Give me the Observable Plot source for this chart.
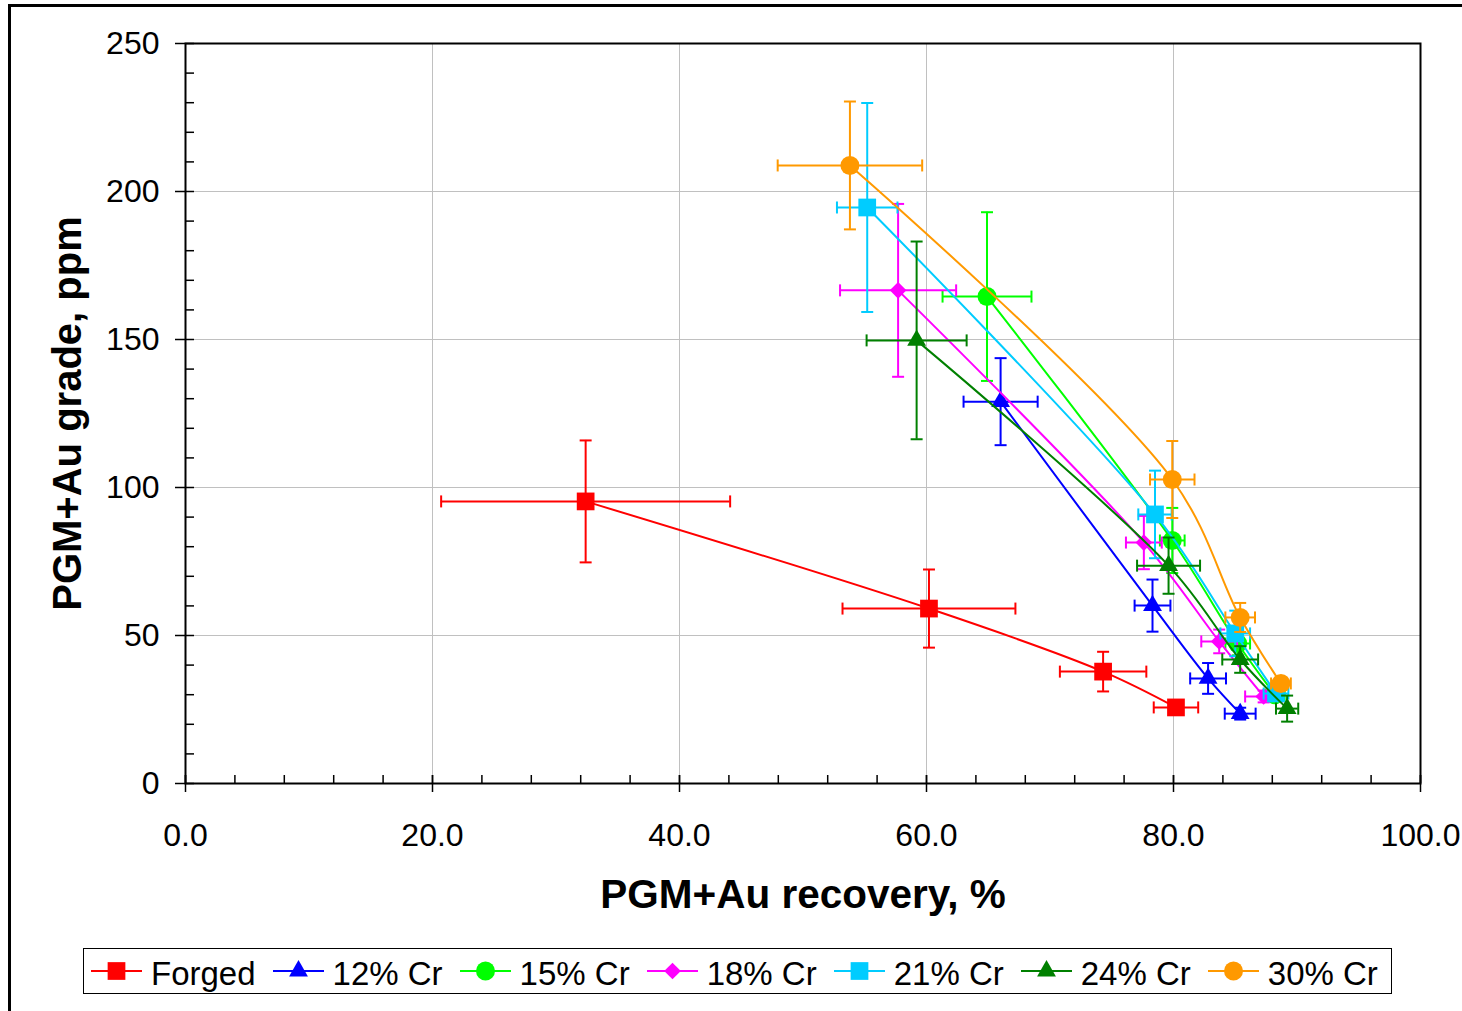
<!DOCTYPE html>
<html><head><meta charset="utf-8">
<script src="https://cdn.jsdelivr.net/npm/d3@7"></script>
<script src="https://cdn.jsdelivr.net/npm/@observablehq/plot@0.6"></script>
<style>
html,body{margin:0;padding:0;background:#fff;}
body{width:1462px;height:1011px;overflow:hidden;position:relative;font-family:"Liberation Sans",Arial,sans-serif;}
#frame{position:absolute;left:8px;top:4px;width:2000px;height:2000px;border-top:3px solid #000;border-left:3px solid #000;}
#chart{position:absolute;left:0;top:0;}
#legend{position:absolute;left:83px;top:948px;width:1309px;height:46px;border:1.5px solid #000;display:flex;align-items:center;box-sizing:border-box;padding-left:7px;background:#fff;white-space:nowrap;overflow:visible;}
.item{display:flex;align-items:center;margin-right:17px;flex:0 0 auto;white-space:nowrap;}
.item svg{margin-right:9px;display:block;flex:0 0 auto;}
.item span{font-size:33px;line-height:1;color:#000;position:relative;top:2px;white-space:nowrap;}
</style></head><body>
<div id="frame"></div>
<div id="chart"></div>
<div id="legend"></div>
<script>
// ---- data ----
const seriesNames = ["Forged", "12% Cr", "15% Cr", "18% Cr", "21% Cr", "24% Cr", "30% Cr"];

const forgedRecovery    = [32.4, 60.2, 74.3, 80.2];
const forgedGrade       = [95.3, 59.1, 37.8, 25.7];
const forgedRecoveryErr = [11.7, 7.0, 3.5, 1.8];
const forgedGradeErr    = [20.6, 13.2, 6.7, 1.5];

const cr12Recovery    = [66.0, 78.3, 82.8, 85.4];
const cr12Grade       = [129.0, 60.1, 35.5, 23.6];
const cr12RecoveryErr = [3.0, 1.45, 1.45, 1.25];
const cr12GradeErr    = [14.7, 8.8, 5.2, 2.0];

const cr15Recovery    = [64.9, 79.9, 85.2, 88.2];
const cr15Grade       = [164.5, 82.1, 47.3, 30.0];
const cr15RecoveryErr = [3.6, 1.0, 1.0, 0.8];
const cr15GradeErr    = [28.5, 11.0, 4.0, 2.0];

const cr18Recovery    = [57.7, 77.6, 83.7, 87.3];
const cr18Grade       = [166.6, 81.4, 48.0, 29.4];
const cr18RecoveryErr = [4.7, 1.45, 1.45, 1.5];
const cr18GradeErr    = [29.2, 9.0, 4.0, 2.0];

const cr21Recovery    = [55.2, 78.5, 85.0, 88.3];
const cr21Grade       = [194.6, 90.9, 50.7, 30.4];
const cr21RecoveryErr = [2.45, 1.35, 1.2, 1.0];
const cr21GradeErr    = [35.3, 14.8, 7.7, 2.0];

const cr24Recovery    = [59.2, 79.6, 85.4, 89.2];
const cr24Grade       = [149.7, 73.6, 41.9, 25.3];
const cr24RecoveryErr = [4.05, 2.55, 1.45, 0.9];
const cr24GradeErr    = [33.4, 9.5, 4.5, 4.4];

const cr30Recovery    = [53.8, 79.9, 85.4, 88.7];
const cr30Grade       = [208.8, 102.7, 56.1, 33.8];
const cr30RecoveryErr = [5.85, 1.8, 1.2, 0.8];
const cr30GradeErr    = [21.6, 13.0, 4.9, 2.0];

const xMajorTicks = [0, 20, 40, 60, 80, 100];
const xGridTicks = [20, 40, 60, 80];
const xMinorTicks = d3.range(0, 101, 4);
const yMajorTicks = [0, 50, 100, 150, 200, 250];
const yGridTicks = [50, 100, 150, 200];
const yMinorTicks = d3.range(0, 251, 10);

const xTitle = "PGM+Au recovery, %";
const yTitle = "PGM+Au grade, ppm";

// ---- styles ----
const seriesColors  = ["#FF0000", "#0000FF", "#00FF00", "#FF00FF", "#00CCFF", "#008000", "#FF9900"];
const seriesSymbols = ["square", "triangle", "circle", "diamond2", "square", "triangle", "circle"];
const seriesR       = [10, 7, 9.5, 7.5, 10, 7, 9.5];

const recoveries = [forgedRecovery, cr12Recovery, cr15Recovery, cr18Recovery, cr21Recovery, cr24Recovery, cr30Recovery];
const grades = [forgedGrade, cr12Grade, cr15Grade, cr18Grade, cr21Grade, cr24Grade, cr30Grade];
const recoveryErrs = [forgedRecoveryErr, cr12RecoveryErr, cr15RecoveryErr, cr18RecoveryErr, cr21RecoveryErr, cr24RecoveryErr, cr30RecoveryErr];
const gradeErrs = [forgedGradeErr, cr12GradeErr, cr15GradeErr, cr18GradeErr, cr21GradeErr, cr24GradeErr, cr30GradeErr];

const capH = {draw(c, size) { const w = Math.sqrt(size / Math.PI); c.moveTo(-w, 0); c.lineTo(w, 0); }};
const capV = {draw(c, size) { const w = Math.sqrt(size / Math.PI); c.moveTo(0, -w); c.lineTo(0, w); }};

const seriesMarks = seriesNames.flatMap((name, i) => {
  const rows = recoveries[i].map((x, j) => ({series: name, x, y: grades[i][j], ex: recoveryErrs[i][j], ey: gradeErrs[i][j]}));
  const color = seriesColors[i];
  return [
    Plot.line(rows, {x: "x", y: "y", stroke: color, strokeWidth: 2, curve: "catmull-rom"}),
    Plot.ruleX(rows, {x: "x", y1: d => d.y - d.ey, y2: d => d.y + d.ey, stroke: color, strokeWidth: 2}),
    Plot.ruleY(rows, {y: "y", x1: d => d.x - d.ex, x2: d => d.x + d.ex, stroke: color, strokeWidth: 2}),
    Plot.dot(rows, {x: "x", y: d => d.y - d.ey, symbol: capH, r: 6, fill: "none", stroke: color, strokeWidth: 2}),
    Plot.dot(rows, {x: "x", y: d => d.y + d.ey, symbol: capH, r: 6, fill: "none", stroke: color, strokeWidth: 2}),
    Plot.dot(rows, {x: d => d.x - d.ex, y: "y", symbol: capV, r: 6, fill: "none", stroke: color, strokeWidth: 2}),
    Plot.dot(rows, {x: d => d.x + d.ex, y: "y", symbol: capV, r: 6, fill: "none", stroke: color, strokeWidth: 2}),
    Plot.dot(rows, {x: "x", y: "y", symbol: seriesSymbols[i], r: seriesR[i], fill: color, stroke: "none"})
  ];
});

const chart = Plot.plot({
  width: 1462,
  height: 940,
  marginTop: 43,
  marginLeft: 185,
  marginRight: 42,
  marginBottom: 157,
  style: {fontFamily: "'Liberation Sans', Arial, sans-serif", color: "#000", background: "transparent", overflow: "visible"},
  x: {domain: [0, 100]},
  y: {domain: [0, 250]},
  marks: [
    Plot.gridX({ticks: xGridTicks, stroke: "#c0c0c0", strokeOpacity: 1, strokeWidth: 1}),
    Plot.gridY({ticks: yGridTicks, stroke: "#c0c0c0", strokeOpacity: 1, strokeWidth: 1}),
    ...seriesMarks,
    Plot.frame({stroke: "#000", strokeWidth: 2}),
    Plot.axisY({ticks: yMajorTicks, tickSize: 10, tickPadding: 16, fontSize: 32, label: null, strokeWidth: 1.5}),
    Plot.axisY({ticks: yMinorTicks, tickSize: 9, dx: 9, tickFormat: () => "", label: null, strokeWidth: 1.5}),
    Plot.axisX({ticks: xMajorTicks, tickSize: 17, dy: -8, tickFormat: () => "", label: null, strokeWidth: 1.5}),
    Plot.axisX({ticks: xMinorTicks, tickSize: 8, dy: -8, tickFormat: () => "", label: null, strokeWidth: 1.5}),
    Plot.axisX({ticks: xMajorTicks, tickSize: 0, tickPadding: 40, fontSize: 32, tickFormat: d3.format(".1f"), label: null}),
    Plot.text([xTitle], {text: d => d, frameAnchor: "bottom", textAnchor: "middle", lineAnchor: "middle", dy: 112, fontSize: 40.5, fontWeight: "bold", fill: "#000"}),
    Plot.text([yTitle], {text: d => d, frameAnchor: "left", textAnchor: "middle", lineAnchor: "middle", dx: -117, rotate: -90, fontSize: 40, fontWeight: "bold", fill: "#000"})
  ]
});
document.getElementById("chart").appendChild(chart);

// ---- legend ----
const symbolTypes = {square: d3.symbolSquare, triangle: d3.symbolTriangle, circle: d3.symbolCircle, diamond2: d3.symbolDiamond2};
const legend = d3.select("#legend");
seriesNames.forEach((name, i) => {
  const item = legend.append("div").attr("class", "item");
  const svg = item.append("svg").attr("width", 51).attr("height", 24);
  svg.append("line").attr("x1", 0).attr("x2", 51).attr("y1", 12).attr("y2", 12)
    .attr("stroke", seriesColors[i]).attr("stroke-width", 2);
  svg.append("path")
    .attr("d", d3.symbol(symbolTypes[seriesSymbols[i]], Math.PI * seriesR[i] * seriesR[i])())
    .attr("transform", "translate(25.5,12)")
    .attr("fill", seriesColors[i]);
  item.append("span").text(name);
});
</script></body></html>
